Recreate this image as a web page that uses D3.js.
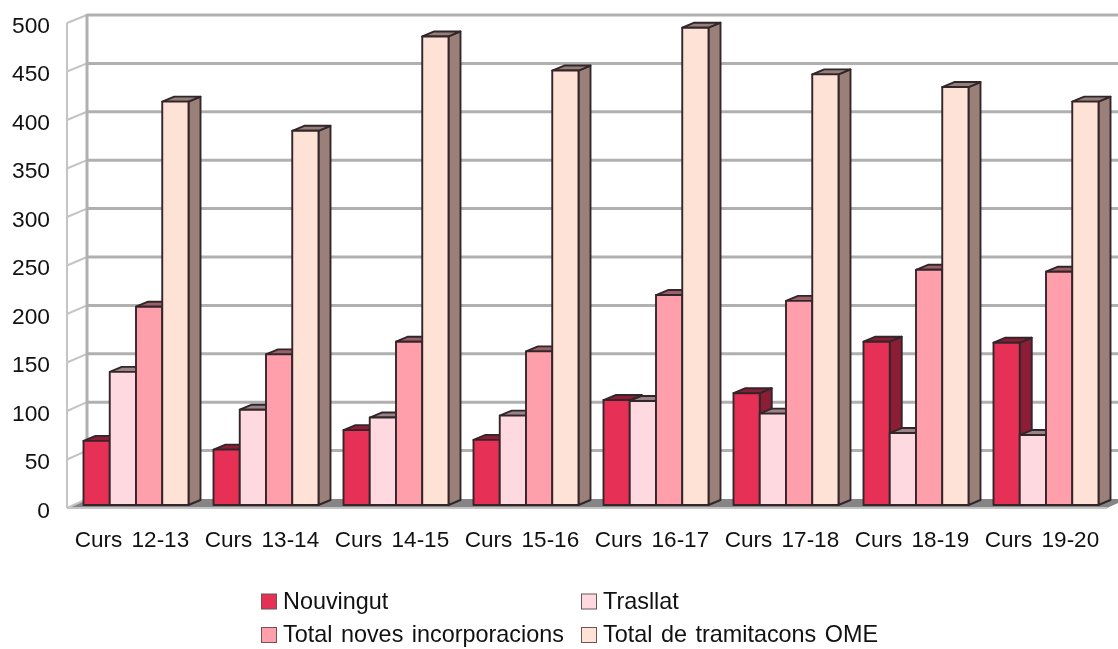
<!DOCTYPE html>
<html>
<head>
<meta charset="utf-8">
<script src="https://cdn.jsdelivr.net/npm/d3@7"></script>
<style>
  html, body { margin: 0; padding: 0; background: #fff; }
  svg { filter: blur(0.45px); }
  text { font-family: "Liberation Sans", sans-serif; fill: #111; }
</style>
</head>
<body>
<div id="chart"></div>
<script>
// data
var cursos = ["Curs 12-13", "Curs 13-14", "Curs 14-15", "Curs 15-16", "Curs 16-17", "Curs 17-18", "Curs 18-19", "Curs 19-20"];
var series = ["Nouvingut", "Trasllat", "Total noves incorporacions", "Total de tramitacons OME"];
var nouvingut = [66, 57, 77, 67, 108, 115, 168, 167];
var trasllat = [137, 98, 90, 92, 107, 94, 74, 72];
var totalNoves = [204, 155, 168, 158, 216, 210, 242, 240];
var totalOme = [415, 385, 482, 447, 491, 443, 430, 415];
var valors = [nouvingut, trasllat, totalNoves, totalOme];
var yTicks = [0, 50, 100, 150, 200, 250, 300, 350, 400, 450, 500];

// colors per series: front, top, side
var colors = [
  { front: "#e63055", top: "#8c1d35", side: "#8c1d35" },
  { front: "#ffd9e0", top: "#9b8488", side: "#9b8488" },
  { front: "#ff9fac", top: "#9b6169", side: "#9b6169" },
  { front: "#ffe2d6", top: "#94807a", side: "#9b8079" }
];

var W = 1118, H = 649;
var svg = d3.select("#chart").append("svg").attr("width", W).attr("height", H).style("display", "block");

// front edge of the box, back wall, and the plane where the bars stand
var yFront = d3.scaleLinear().domain([0, 500]).range([508, 23]);
var yBack = d3.scaleLinear().domain([0, 500]).range([499, 15]);
var yBar = d3.scaleLinear().domain([0, 500]).range([505, 19]);
var x = d3.scaleBand().domain(cursos).range([67, 1107]);
var xSerie = d3.scaleBand().domain(series).range([0, 105]);
var depth = { x: 12, y: -5 };
var wall = { x: 20, y: -9 };
var right = 1107;

// floor
svg.append("path")
  .attr("d", "M" + x.range()[0] + "," + yFront(0) + "L" + (x.range()[0] + wall.x) + "," + yBack(0) + "L" + (right + wall.x) + "," + yBack(0) + "L" + right + "," + yFront(0) + "Z")
  .attr("fill", "#858585");

// grid on the back wall and the left side wall
var grid = svg.append("g").attr("fill", "none");
yTicks.forEach(function(t) {
  if (t > 0) {
    grid.append("line").attr("x1", 87).attr("x2", W)
      .attr("y1", yBack(t)).attr("y2", yBack(t))
      .attr("stroke", "#b0b0b0").attr("stroke-width", 3);
  }
  grid.append("line").attr("x1", 67).attr("x2", 87)
    .attr("y1", yFront(t)).attr("y2", yBack(t))
    .attr("stroke", "#c4c4c4").attr("stroke-width", 2);
});
grid.append("line").attr("x1", 87).attr("x2", 87)
  .attr("y1", yBack(500) - 1).attr("y2", yBack(0))
  .attr("stroke", "#b0b0b0").attr("stroke-width", 3);
grid.append("line").attr("x1", 67).attr("x2", 67)
  .attr("y1", yFront(500)).attr("y2", yFront(0))
  .attr("stroke", "#c4c4c4").attr("stroke-width", 2);
grid.append("line").attr("x1", 67).attr("x2", right)
  .attr("y1", yFront(0)).attr("y2", yFront(0))
  .attr("stroke", "#c4c4c4").attr("stroke-width", 2);

// bars, back to front, left to right
var barres = svg.append("g").attr("stroke", "#33262a").attr("stroke-width", 1.9).attr("stroke-linejoin", "round");
cursos.forEach(function(c, i) {
  series.forEach(function(s, j) {
    var x0 = x(c) + 16.5 + xSerie(s);
    var x1 = x0 + xSerie.bandwidth();
    var y0 = yBar(0);
    var y1 = yBar(valors[j][i]);
    // right side
    barres.append("path")
      .attr("d", "M" + x1 + "," + y1 + "L" + (x1 + depth.x) + "," + (y1 + depth.y) + "L" + (x1 + depth.x) + "," + (y0 + depth.y) + "L" + x1 + "," + y0 + "Z")
      .attr("fill", colors[j].side);
    // top
    barres.append("path")
      .attr("d", "M" + x0 + "," + y1 + "L" + (x0 + depth.x) + "," + (y1 + depth.y) + "L" + (x1 + depth.x) + "," + (y1 + depth.y) + "L" + x1 + "," + y1 + "Z")
      .attr("fill", colors[j].top);
    // front
    barres.append("rect")
      .attr("x", x0).attr("y", y1)
      .attr("width", x1 - x0).attr("height", y0 - y1)
      .attr("fill", colors[j].front);
  });
});

// axis labels
var yAxis = d3.axisLeft(yFront).tickValues(yTicks).tickSize(0).tickPadding(0);
var gy = svg.append("g").attr("transform", "translate(50,0)").call(yAxis);
gy.select(".domain").remove();
gy.selectAll("text").style("font-size", "22.8px").attr("dy", "0.41em");

var xAxis = d3.axisBottom(x).tickSize(0).tickPadding(0);
var gx = svg.append("g").attr("transform", "translate(0,529)").call(xAxis);
gx.select(".domain").remove();
gx.selectAll("text").style("font-size", "22.5px").style("word-spacing", "3px").attr("dy", "0.8em");

// legend
var legX = [261.5, 581.5], legY = [601, 634.5];
series.forEach(function(s, j) {
  var lx = legX[j % 2], ly = legY[Math.floor(j / 2)];
  svg.append("rect").attr("x", lx).attr("y", ly - 7).attr("width", 15).attr("height", 15)
    .attr("fill", colors[j].front).attr("stroke", "#6b5557").attr("stroke-width", 1);
  svg.append("text").attr("x", lx + 21.5).attr("y", ly + 7.5)
    .style("font-size", "23.4px").style("word-spacing", "2px").text(s);
});
</script>
</body>
</html>
